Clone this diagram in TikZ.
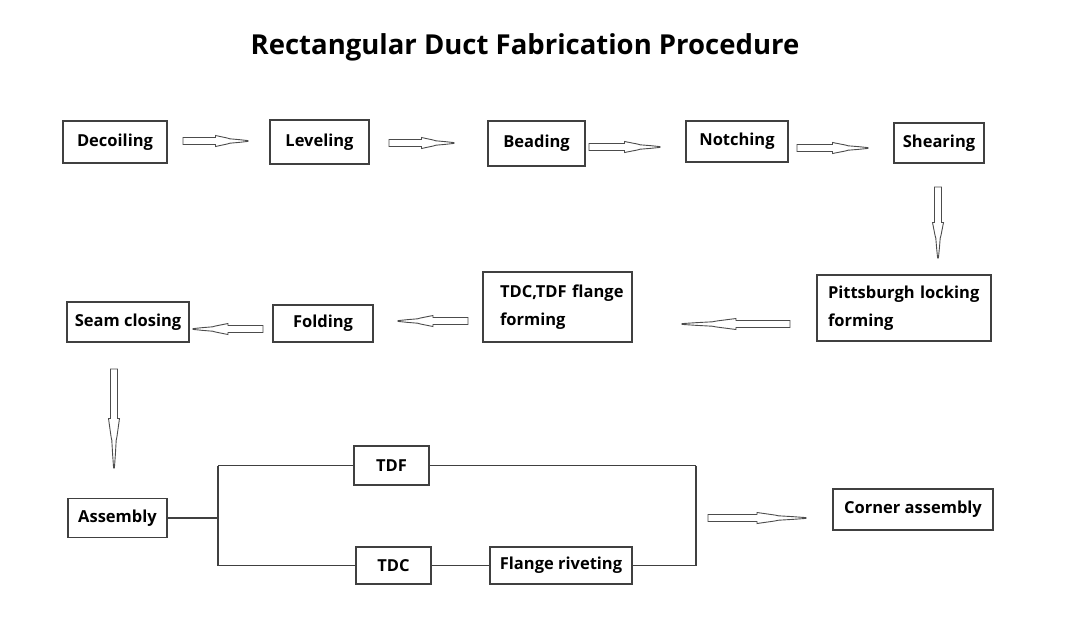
\documentclass[tikz,border=0pt]{standalone}
\usepackage{fontspec}
\setmainfont{Open Sans}
\usetikzlibrary{calc}

\newcommand\blockarrow[2]{%
  \draw[hollowarrow] let \p1=(#1), \p2=(#2),
    \n1={atan2(\y2-\y1,\x2-\x1)}, \n2={veclen(\x2-\x1,\y2-\y1)} in
    {[shift={(\p1)},rotate=\n1]
      (0pt,-3.5pt) -- ({0.5*\n2*1pt},-3.5pt) -- ({0.5*\n2*1pt},-5.5pt)
      -- ({0.68*\n2*1pt},-3pt) -- ({0.72*\n2*1pt},-2.2pt) -- ({0.86*\n2*1pt},-1.4pt)
      -- ({\n2*1pt},-0.4pt) -- ({\n2*1pt},0.4pt)
      -- ({0.86*\n2*1pt},1.4pt) -- ({0.72*\n2*1pt},2.2pt) -- ({0.68*\n2*1pt},3pt)
      -- ({0.5*\n2*1pt},5.5pt) -- ({0.5*\n2*1pt},3.5pt) -- (0pt,3.5pt) -- cycle};
}

\begin{document}
\begin{tikzpicture}[x=1pt,y=-1pt,
    box/.style={draw=black!75,line width=1.2pt,inner sep=0pt,align=center,
      font=\fontsize{16.5}{28}\selectfont\bfseries},
    twoline/.style={box,align=left,text width=#1},
    hollowarrow/.style={draw=black!70,line width=0.9pt,fill=white},
    wire/.style={draw=black!75,line width=1.2pt}]
    \useasboundingbox (0,0) rectangle (1075,622);

    \node[font=\fontsize{27.5}{32}\selectfont\bfseries] (title) at (525,47) {Rectangular Duct Fabrication Procedure};

    % first row
    \node[box,minimum width=104,minimum height=42] (dec) at (115,142) {Decoiling};
    \node[box,minimum width=99,minimum height=44] (lev) at (319.5,142) {Leveling};
    \node[box,minimum width=97,minimum height=45] (bead) at (536.5,143.5) {Beading};
    \node[box,minimum width=102,minimum height=41] (notch) at (737,141.5) {Notching};
    \node[box,minimum width=90,minimum height=40] (shear) at (939,143) {Shearing};

    % second row
    \node[box,minimum width=122,minimum height=40] (seam) at (128,322) {Seam closing};
    \node[box,minimum width=100,minimum height=37] (fold) at (323,323.5) {Folding};
    \node[twoline=115,minimum width=149,minimum height=70] (tdcf) at (557.5,307) {TDC,TDF~flange\\forming};
    \node[twoline=152,minimum width=174,minimum height=66] (pitt) at (904,308) {Pittsburgh~locking\\forming};

    % third row
    \node[box,minimum width=99,minimum height=39] (asm) at (117.5,518) {Assembly};
    \node[box,minimum width=75,minimum height=39] (tdf) at (391.5,465.5) {TDF};
    \node[box,minimum width=75,minimum height=37] (tdc) at (393.5,565.5) {TDC};
    \node[box,minimum width=142,minimum height=37] (rivet) at (561,565.5) {Flange riveting};
    \node[box,minimum width=160,minimum height=41] (corner) at (913,509.5) {Corner assembly};

    % block arrows
    \coordinate (a1) at (183,141);  \coordinate (b1) at (248,141);
    \coordinate (a2) at (389,143);  \coordinate (b2) at (454,143);
    \coordinate (a3) at (589,147);  \coordinate (b3) at (660,147);
    \coordinate (a4) at (797,148);  \coordinate (b4) at (868,148);
    \coordinate (a5) at (938,187);  \coordinate (b5) at (938,258);
    \coordinate (a6) at (790,324);  \coordinate (b6) at (682,324);
    \coordinate (a7) at (468,321);  \coordinate (b7) at (398,321);
    \coordinate (a8) at (263,329);  \coordinate (b8) at (193,329);
    \coordinate (a9) at (114,369);  \coordinate (b9) at (114,468);
    \coordinate (a10) at (708,518); \coordinate (b10) at (806,518);
    \foreach \i in {1,...,10} {\blockarrow{a\i}{b\i}}

    % branches
    \coordinate (split) at (218,518);
    \coordinate (join) at (696,516);
    \draw[wire] (asm.east) -- (split);
    \draw[wire] (split |- tdf.west) -- (split |- tdc.west);
    \draw[wire] (split |- tdf.west) -- (tdf.west);
    \draw[wire] (split |- tdc.west) -- (tdc.west);
    \draw[wire] (tdc.east) -- (rivet.west);
    \draw[wire] (tdf.east) -- (join |- tdf.east);
    \draw[wire] (rivet.east) -- (join |- rivet.east);
    \draw[wire] (join |- tdf.east) -- (join |- rivet.east);
\end{tikzpicture}
\end{document}
